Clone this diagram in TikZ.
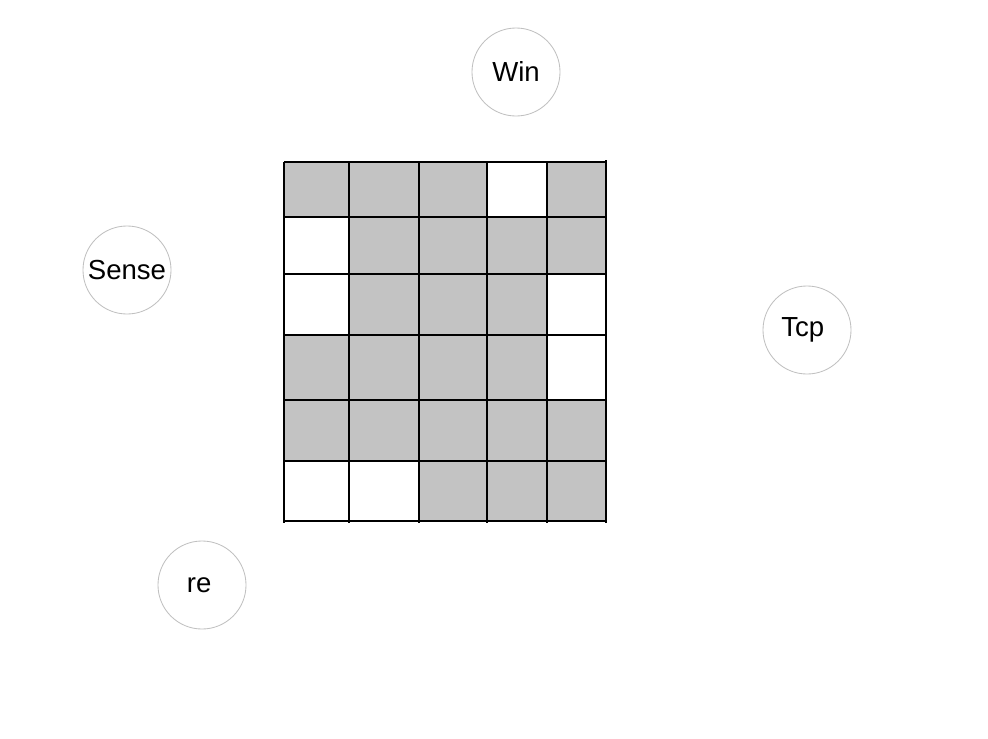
\documentclass[tikz,border=0pt]{standalone}
\usepackage{tikz}
\usepackage{fontspec}
\setmainfont{Liberation Sans}
\definecolor{cellgray}{RGB}{195,195,195}
\definecolor{ringgray}{RGB}{192,192,192}

\begin{document}
\begin{tikzpicture}[x=0.025cm,y=-0.025cm,
    label node/.style={circle,draw=ringgray,line width=0.6pt,minimum size=2.2cm,inner sep=0pt,font=\fontsize{19.6}{23}\selectfont},
    cell/.style={fill=cellgray}]

\useasboundingbox (0,0) rectangle (988,738);

% shaded cells
\fill[cell] (284,162) rectangle (487,217) (547,162) rectangle (606,217);
\fill[cell] (349,217) rectangle (606,274);
\fill[cell] (349,274) rectangle (547,335);
\fill[cell] (284,335) rectangle (547,400);
\fill[cell] (284,400) rectangle (606,461);
\fill[cell] (419,461) rectangle (606,521);

% grid lines
\draw[line width=1pt] (284,162) -- (606,162) (284,217) -- (606,217)
    (284,274) -- (606,274) (284,335) -- (606,335) (284,400) -- (606,400)
    (284,461) -- (606,461) (284,521) -- (606,521);
\draw[line width=1pt] (284,162) -- (284,523) (349,162) -- (349,523)
    (419,162) -- (419,523) (487,162) -- (487,523) (547,162) -- (547,523)
    (606,160) -- (606,523);

\node[label node] (Win) at (516,72) {Win};
\node[label node] (Sense) at (127,270) {Sense};
\node[label node] (Tcp) at (807,330) {\hspace*{-6pt}Tcp};
\node[label node] (re) at (202,585) {\hspace*{-4pt}re};

\end{tikzpicture}
\end{document}
